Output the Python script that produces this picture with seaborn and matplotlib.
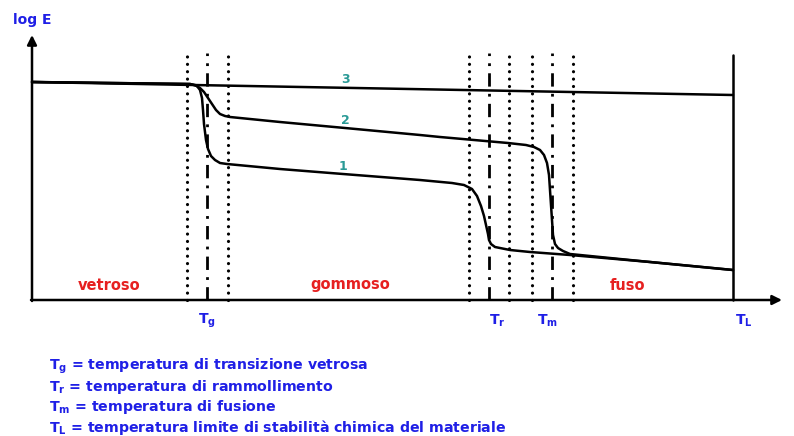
import matplotlib
matplotlib.use("Agg")
import matplotlib.pyplot as plt
import seaborn as sns
import pandas as pd

# Temperature (arbitrary units) and log E (arbitrary units) for the three curves
curve3_T = [0, 701]
curve3_logE = [218, 205]

curve2_T = [0, 158, 163, 168, 172, 176, 180, 184, 188, 193, 198, 248, 313, 388, 408,
            476, 494, 502, 508, 512, 515, 517, 518, 519, 520, 521, 523, 526, 531,
            538, 618, 701]
curve2_logE = [218, 216, 215, 212, 208, 202, 196, 190, 186, 184, 183, 178, 172, 165,
               163, 157, 155, 153, 150, 145, 137, 125, 110, 95, 80, 65, 56, 52, 49,
               46, 38, 30]

curve1_T = [0, 158, 165, 168, 170, 171, 172, 174, 176, 179, 183, 188, 195, 248, 311,
            388, 420, 432, 440, 445, 449, 452, 454, 456, 457, 459, 463, 468, 478,
            498, 538, 618, 701]
curve1_logE = [218, 216, 214, 210, 202, 190, 176, 160, 151, 144, 140, 137, 136, 131,
               126, 120, 117, 115, 111, 104, 94, 84, 75, 66, 60, 56, 53, 52, 50,
               48, 45, 38, 30]

curve_labels = ["1", "2", "3"]
curve_label_T = [311, 313, 314]
curve_label_logE = [133, 180, 220]

# Characteristic temperatures
dotted_T = [155, 196, 437, 477, 500, 541]
Tg, Tr, Tm, TL = 175, 457, 520, 701
marker_top = 247

tick_names = [r"T$_\mathbf{g}$", r"T$_\mathbf{r}$", r"T$_\mathbf{m}$", r"T$_\mathbf{L}$"]
tick_T = [166, 457, 505, 703]

regions = ["vetroso", "gommoso", "fuso"]
region_T = [77, 318, 595]

legend_lines = [
    r"T$_\mathbf{g}$ = temperatura di transizione vetrosa",
    r"T$_\mathbf{r}$ = temperatura di rammollimento",
    r"T$_\mathbf{m}$ = temperatura di fusione",
    r"T$_\mathbf{L}$ = temperatura limite di stabilità chimica del materiale",
]
legend_logE = [-66, -87, -107, -127]

BLUE = "#1f1fe6"
RED = "#e62020"
TEAL = "#2a9a96"

sns.set_theme(style="white")
plt.rcParams["font.family"] = ["DejaVu Sans"]
plt.rcParams["mathtext.fontset"] = "dejavusans"
plt.rcParams["mathtext.default"] = "bf"

fig = plt.figure(figsize=(7.94, 4.36), dpi=100)
ax = fig.add_axes([0, 0, 1, 1])
ax.set_xlim(-32, 762)
ax.set_ylim(-136, 300)
ax.axis("off")

frames = []
for name, T, L in [("1", curve1_T, curve1_logE), ("2", curve2_T, curve2_logE),
                   ("3", curve3_T, curve3_logE)]:
    frames.append(pd.DataFrame({"T": T, "logE": L, "curve": name}))
df = pd.concat(frames, ignore_index=True)
sns.lineplot(data=df, x="T", y="logE", units="curve", estimator=None, sort=False,
             color="black", linewidth=1.8, ax=ax, legend=False,
             solid_joinstyle="round", solid_capstyle="round")

# dotted boundaries of the transition zones
ax.vlines(dotted_T, 0, marker_top, colors="black", linewidth=2.3,
          linestyles=[(0, (0.01, 2.3))], capstyle="round")
# dash-dot markers at Tg, Tr, Tm
for v in (Tg, Tr, Tm):
    ax.plot([v, v], [0, marker_top], color="black", linewidth=2.0,
            dashes=(4.8, 2.6, 1.0, 2.6), dash_capstyle="butt")
ax.plot([TL, TL], [0, 245], color="black", linewidth=1.8)

# axes with arrows
ax.annotate("", xy=(0, 265), xytext=(0, -1),
            arrowprops=dict(arrowstyle="-|>", color="black", lw=1.8,
                            mutation_scale=14, shrinkA=0, shrinkB=0))
ax.annotate("", xy=(750, 0), xytext=(-1, 0),
            arrowprops=dict(arrowstyle="-|>", color="black", lw=1.8,
                            mutation_scale=14, shrinkA=0, shrinkB=0))

ax.text(0, 280, "log E", color=BLUE, fontsize=10, fontweight="bold",
        ha="center", va="center")

for lab, t, l in zip(curve_labels, curve_label_T, curve_label_logE):
    ax.text(t, l, lab, color=TEAL, fontsize=9, fontweight="bold",
            ha="center", va="center")

for lab, t in zip(tick_names, tick_T):
    ax.text(t, -21, lab, color=BLUE, fontsize=10, fontweight="bold",
            ha="left", va="center")

for lab, t in zip(regions, region_T):
    ax.text(t, 15, lab, color=RED, fontsize=10.5, fontweight="bold",
            ha="center", va="center")

for lab, l in zip(legend_lines, legend_logE):
    ax.text(17, l, lab, color=BLUE, fontsize=10.2, fontweight="bold",
            ha="left", va="center")

fig.savefig("out.png", dpi=100)
